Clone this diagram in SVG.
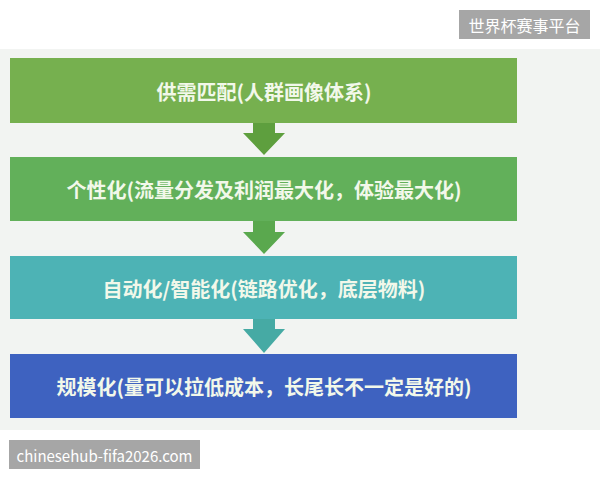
<svg xmlns="http://www.w3.org/2000/svg" width="600" height="480" viewBox="0 0 600 480">
<style>
.lbl{font-family:"Noto Sans CJK SC","Liberation Sans",sans-serif;font-size:20px;font-weight:bold;fill:#f2f8ea;text-anchor:middle;dominant-baseline:central}
.wm{font-family:"Noto Sans CJK SC","DejaVu Sans",sans-serif;font-size:16px;fill:#ffffff;dominant-baseline:central;text-anchor:middle}
</style>
<rect x="0" y="0" width="600" height="480" fill="#ffffff"/>
<rect x="0" y="49" width="600" height="381" fill="#f2f4f2"/>
<g id="connectors">
<polygon points="253,123 275,123 275,133 285,133 264,155 243,133 253,133" fill="#5e9f3e"/>
<polygon points="253,221 275,221 275,232 285,232 264,254 243,232 253,232" fill="#5aa84e"/>
<polygon points="253,319 275,319 275,329 285,329 264,353 243,329 253,329" fill="#46aaa4"/>
</g>
<g id="node1">
<rect x="10" y="58" width="507" height="65" fill="#76b04f"/>
<text class="lbl" x="264" y="91">供需匹配(人群画像体系)</text>
</g>
<g id="node2">
<rect x="10" y="157" width="507" height="64" fill="#62b05a"/>
<text class="lbl" x="264" y="189">个性化(流量分发及利润最大化，体验最大化)</text>
</g>
<g id="node3">
<rect x="10" y="256" width="507" height="63" fill="#4db3b5"/>
<text class="lbl" x="264" y="288">自动化/智能化(链路优化，底层物料)</text>
</g>
<g id="node4">
<rect x="10" y="354" width="507" height="64" fill="#3e62c0"/>
<text class="lbl" x="264" y="386">规模化(量可以拉低成本，长尾长不一定是好的)</text>
</g>
<g id="wm1">
<rect x="459" y="10" width="131" height="29" fill="#a6a6a6"/>
<text class="wm" x="524.5" y="25">世界杯赛事平台</text>
</g>
<g id="wm2">
<rect x="9" y="440" width="191" height="29" fill="#a6a6a6"/>
<text class="wm" x="104.5" y="455" style="font-size:15px">chinesehub-fifa2026.com</text>
</g>
</svg>
